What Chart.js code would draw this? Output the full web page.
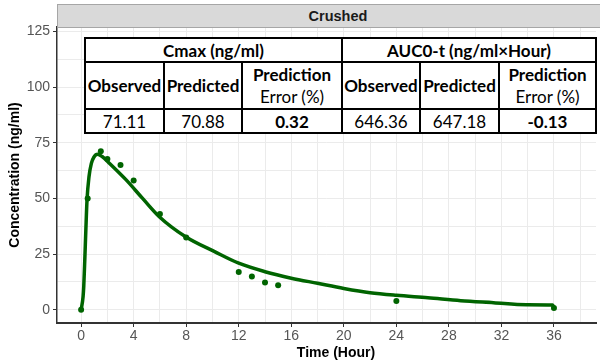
<!DOCTYPE html>
<html>
<head>
<meta charset="utf-8">
<script src="https://cdn.jsdelivr.net/npm/chart.js@4/dist/chart.umd.min.js"></script>
<style>
  html, body { margin: 0; padding: 0; background: #fff; }
  #wrap { position: relative; width: 600px; height: 363px; overflow: hidden; }
  #c { position: absolute; left: 0; top: 0; }
  #strip { position: absolute; left: 57px; top: 4px; width: 560px; height: 22px;
    background: #d9d9d9; border: 1px solid #a6a6a6; box-sizing: content-box;
    font: bold 14.5px "Liberation Sans", Arial, sans-serif; color: #1a1a1a;
    text-align: center; line-height: 22px; }
  #xtitle { position: absolute; left: 236px; width: 200px; top: 344px; text-align: center;
    font: bold 14px "Liberation Sans", Arial, sans-serif; color: #000; }
  #tbl { position: absolute; left: 84px; top: 37px; border-collapse: collapse; table-layout: fixed;
    background: #fff; font-family: Lato, "Open Sans", sans-serif; font-size: 17px; color: #000; }
  #tbl td { border: 2px solid #000; text-align: center; padding: 0; white-space: nowrap; overflow: visible; }
  #tbl .b { font-weight: bold; }
  #tbl .r1 td { height: 22px; }
  #tbl .r2 td { height: 45px; line-height: 22px; }
  #tbl .r3 td { height: 22px; }
</style>
</head>
<body>
<div id="wrap">
  <canvas id="c" width="600" height="363"></canvas>
  <div id="strip">Crushed</div>
  <div id="xtitle">Time (Hour)</div>
  <table id="tbl">
    <colgroup>
      <col style="width:79px"><col style="width:78px"><col style="width:100px">
      <col style="width:78px"><col style="width:79px"><col style="width:97px">
    </colgroup>
    <tr class="r1"><td colspan="3" class="b" id="h1"></td><td colspan="3" class="b" id="h2"></td></tr>
    <tr class="r2" id="r2"></tr>
    <tr class="r3" id="r3"></tr>
  </table>
</div>
<script>
// ---- data ----
const obsTime = [0, 0.5, 1.5, 2, 3, 4, 6, 8, 12, 13, 14, 15, 24, 36];
const obsConc = [0, 50, 71.11, 67.7, 65, 58, 43, 32.5, 17, 15, 12.3, 11, 4, 0.8];

const predTime = [0, 0.15, 0.2, 0.28, 0.36, 0.45, 0.6, 0.78, 0.98, 1.25, 1.6, 2.17, 3.43, 4.68, 5.95, 7.96, 10.2, 12, 14, 16, 18, 20, 22, 24, 26.4, 28.9, 31.4, 33.9, 35.9, 36];
const predConc = [0, 5.9, 10.4, 22.4, 35.8, 49.3, 59.7, 65.7, 68.6, 69.8, 68.8, 65.7, 58.3, 50, 41.8, 32.8, 26, 20.9, 17.1, 14.2, 11.9, 9.6, 7.7, 6.5, 5.4, 4.1, 3.2, 2.3, 2.2, 0.8];

const xTickLabels = [0, 4, 8, 12, 16, 20, 24, 28, 32, 36];
const xGridVals = [0, 2, 4, 6, 8, 10, 12, 14, 16, 18, 20, 22, 24, 26, 28, 30, 32, 34, 36, 38];
const yTickLabels = [0, 25, 50, 75, 100, 125];
const yGridVals = [0, 12.5, 25, 37.5, 50, 62.5, 75, 87.5, 100, 112.5, 125];

const stripLabel = "Crushed";
const tableHeaders = ["Cmax (ng/ml)", "AUC0-t (ng/ml\u00d7Hour)"];
const subHeaders = ["Observed", "Predicted", "Prediction|Error (%)"];
const cmaxValues = ["71.11", "70.88", "0.32"];
const aucValues = ["646.36", "647.18", "-0.13"];

// ---- table ----
document.getElementById('h1').textContent = tableHeaders[0];
document.getElementById('h2').textContent = tableHeaders[1];
const r2 = document.getElementById('r2');
for (let k = 0; k < 2; k++) {
  subHeaders.forEach(h => {
    const td = document.createElement('td');
    if (h.includes('|')) {
      const [a, b] = h.split('|');
      td.innerHTML = '<span class="b">' + a + '</span><br>' + b;
    } else { td.className = 'b'; td.textContent = h; }
    r2.appendChild(td);
  });
}
const r3 = document.getElementById('r3');
[cmaxValues, aucValues].forEach(vals => vals.forEach((v, i) => {
  const td = document.createElement('td');
  td.textContent = v;
  if (i === 2) td.className = 'b';
  r3.appendChild(td);
}));
document.getElementById('strip').textContent = stripLabel;

// ---- chart ----
const green = '#006400';
new Chart(document.getElementById('c'), {
  type: 'scatter',
  data: {
    datasets: [
      {
        label: 'Predicted',
        data: predTime.map((t, i) => ({ x: t, y: predConc[i] })),
        showLine: true, borderColor: green, borderWidth: 3.5, pointRadius: 0,
        cubicInterpolationMode: 'monotone', order: 2
      },
      {
        label: 'Observed',
        data: obsTime.map((t, i) => ({ x: t, y: obsConc[i] })),
        showLine: false, backgroundColor: green, borderColor: green, pointRadius: 3, borderWidth: 0, order: 1
      }
    ]
  },
  options: {
    responsive: false, animation: false, devicePixelRatio: 1,
    layout: { padding: { left: 0, right: 0, top: 27, bottom: 0 } },
    plugins: { legend: { display: false }, tooltip: { enabled: false } },
    scales: {
      x: {
        type: 'linear', min: -1.836, max: 39.2,
        afterBuildTicks: ax => { ax.ticks = xGridVals.map(v => ({ value: v })); },
        afterFit: s => { s.height = 40; },
        ticks: {
          autoSkip: false, maxRotation: 0, padding: 1,
          color: '#555', font: { family: '"Liberation Sans", Arial, sans-serif', size: 14 },
          callback: v => xTickLabels.includes(v) ? String(v) : ''
        },
        grid: {
          color: '#ebebeb', lineWidth: 1, tickLength: 4,
          tickColor: c => xTickLabels.includes(c.tick && c.tick.value) ? '#333' : 'rgba(0,0,0,0)'
        },
        border: { display: true, color: '#333', width: 2 }
      },
      y: {
        type: 'linear', min: -5.92, max: 126.93,
        afterBuildTicks: ax => { ax.ticks = yGridVals.map(v => ({ value: v })); },
        afterFit: s => { s.width = 57; },
        ticks: {
          autoSkip: false, padding: 3,
          color: '#555', font: { family: '"Liberation Sans", Arial, sans-serif', size: 14 },
          callback: v => yTickLabels.includes(v) ? String(v) : ''
        },
        grid: {
          color: '#ebebeb', lineWidth: 1, tickLength: 4,
          tickColor: c => yTickLabels.includes(c.tick && c.tick.value) ? '#333' : 'rgba(0,0,0,0)'
        },
        border: { display: true, color: '#333', width: 1.5 },
        title: {
          display: true, text: 'Concentration (ng/ml)', color: '#000',
          font: { family: '"Liberation Sans", Arial, sans-serif', size: 14, weight: 'bold' },
          padding: { top: 7, bottom: 0 }
        }
      }
    }
  }
});
</script>
</body>
</html>
